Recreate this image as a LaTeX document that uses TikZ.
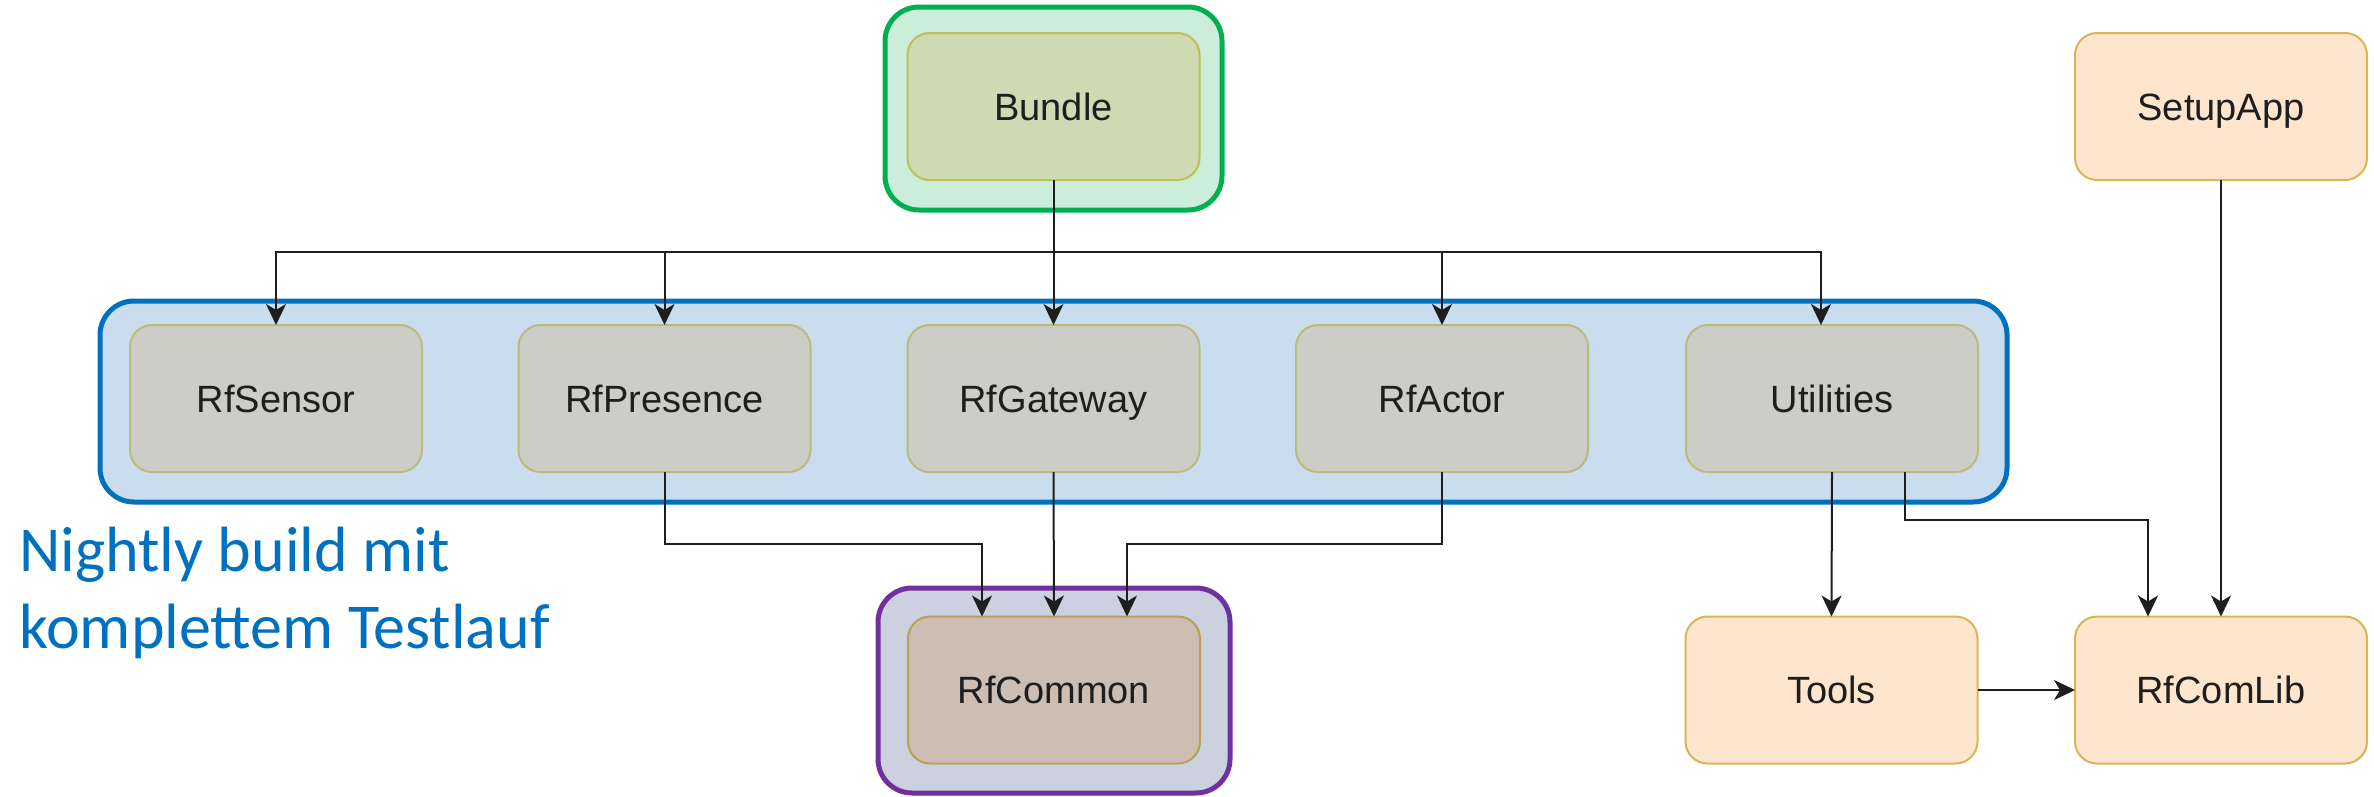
\documentclass[tikz,border=0pt]{standalone}
\usepackage{fontspec}
\setmainfont{Liberation Sans}
\newfontfamily\calib{Carlito}
\usetikzlibrary{arrows.meta,calc}
\definecolor{bluefill}{RGB}{201,221,238}
\definecolor{blueline}{RGB}{0,112,192}
\definecolor{greenfill}{RGB}{204,237,218}
\definecolor{greenline}{RGB}{0,176,80}
\definecolor{purplefill}{RGB}{203,209,223}
\definecolor{purpleline}{RGB}{112,48,160}
\definecolor{grayfill}{RGB}{205,205,200}
\definecolor{grayline}{RGB}{188,186,120}
\definecolor{bundlefill}{RGB}{206,218,178}
\definecolor{bundleline}{RGB}{190,190,90}
\definecolor{commonfill}{RGB}{205,190,180}
\definecolor{commonline}{RGB}{185,160,90}
\definecolor{orangefill}{RGB}{254,229,205}
\definecolor{orangeline}{RGB}{215,182,86}
\definecolor{txt}{RGB}{30,30,30}
\definecolor{wire}{RGB}{30,30,30}
\tikzset{
  modbox/.style={draw, line width=2pt, rounded corners=22pt, minimum width=292pt,
    minimum height=147pt, inner sep=0pt, outer sep=0pt, text=txt,
    text height=27pt, text depth=0pt,
    font=\fontsize{38}{44}\selectfont},
  graybox/.style={modbox, fill=grayfill, draw=grayline},
  bundlebox/.style={modbox, fill=bundlefill, draw=bundleline},
  commonbox/.style={modbox, fill=commonfill, draw=commonline},
  orangebox/.style={modbox, fill=orangefill, draw=orangeline},
  groupbox/.style={line width=5pt, rounded corners=34pt},
  arr/.style={draw=wire, line width=2pt, -{Stealth[length=21pt, width=20pt, inset=6pt]}},
}
\begin{document}
\begin{tikzpicture}[x=1pt, y=-1pt]
\useasboundingbox (0,0) rectangle (2374,796);
% containers
\draw[groupbox, draw=greenline, fill=greenfill] (885,7) rectangle (1222,210);
\draw[groupbox, draw=blueline, fill=bluefill] (100,301) rectangle (2007,502);
\draw[groupbox, draw=purpleline, fill=purplefill] (878,588) rectangle (1230,793);
% modules
\node[bundlebox] (bundle) at (1053.5,106.5) {Bundle};
\node[graybox] (sensor) at (276,398.5) {RfSensor};
\node[graybox] (presence) at (664.5,398.5) {RfPresence};
\node[graybox] (gateway) at (1053.5,398.5) {RfGateway};
\node[graybox] (actor) at (1442,398.5) {RfActor};
\node[graybox] (utilities) at (1832,398.5) {Utilities};
\node[commonbox] (common) at (1054,690) {RfCommon};
\node[orangebox] (tools) at (1831.5,690) {Tools};
\node[orangebox] (comlib) at (2221,690) {RfComLib};
\node[orangebox] (setup) at (2221,106.5) {SetupApp};
% annotation
\node[anchor=base west, align=left, inner sep=0pt, text=blueline,
  font=\calib\fontsize{64}{77}\selectfont] (note) at (19,648)
  {Nightly build mit\\komplettem Testlauf};
% connectors
\coordinate (bus) at (1053.5,252);
\draw[arr] (bundle.south) -- (bus) -| (sensor.north);
\draw[arr] (bundle.south) -- (bus) -| (presence.north);
\draw[arr] (bundle.south) -- (gateway.north);
\draw[arr] (bundle.south) -- (bus) -| (actor.north);
\draw[arr] (bundle.south) -- (bus) -| ([xshift=-11pt]utilities.north);
\draw[arr] (presence.south) |- ([xshift=-72pt,yshift=73pt]common.north) -- ([xshift=-72pt]common.north);
\draw[arr] (gateway.south) -- (common.north);
\draw[arr] (actor.south) |- ([xshift=73pt,yshift=73pt]common.north) -- ([xshift=73pt]common.north);
\draw[arr] (utilities.south) -- (tools.north);
\draw[arr] ([xshift=73pt]utilities.south) |- ([xshift=-73pt,yshift=97pt]comlib.north) -- ([xshift=-73pt]comlib.north);
\draw[arr] (setup.south) -- (comlib.north);
\draw[arr] (tools.east) -- (comlib.west);
\end{tikzpicture}
\end{document}
